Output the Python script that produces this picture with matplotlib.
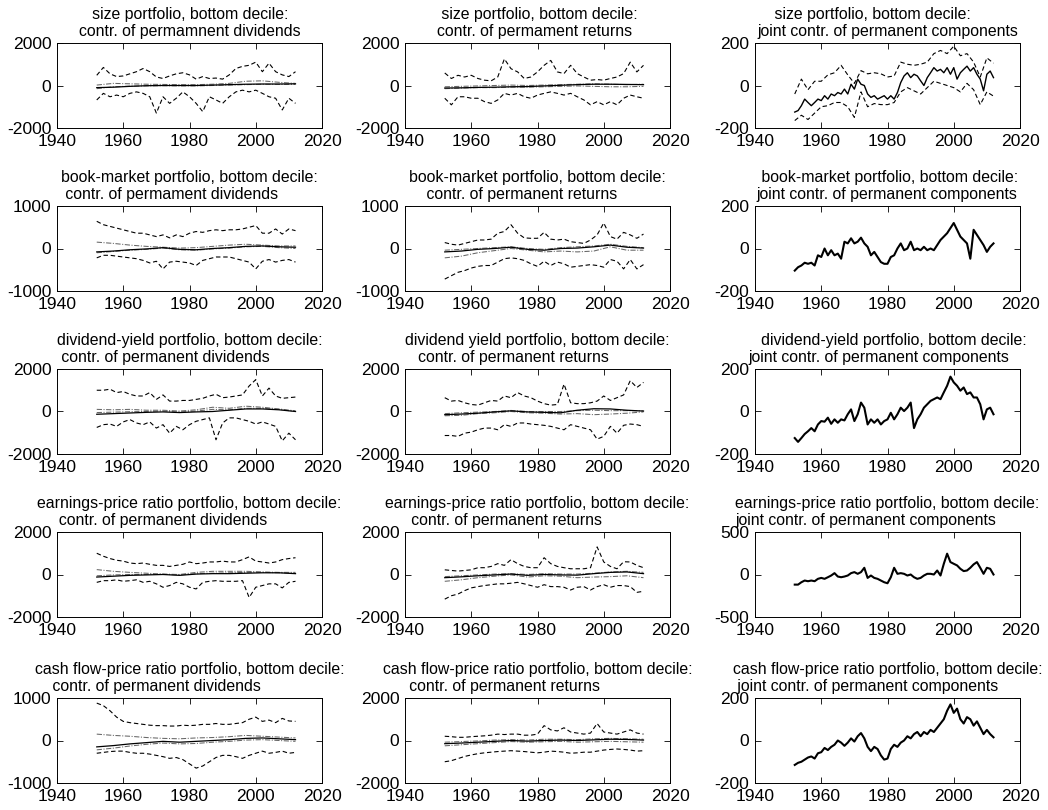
import numpy as np
import matplotlib
matplotlib.use("Agg")
import matplotlib.pyplot as plt

plt.rcParams['font.family'] = ['Liberation Sans', 'DejaVu Sans']
plt.rcParams['axes.unicode_minus'] = False

# time grids
yr_band = np.arange(1952, 2013, 2)
yr_mid = np.arange(1952, 2013, 5)
yr_joint = np.arange(1952, 2013, 1)

# ---- size portfolio ----
size_div_up = [480, 850, 550, 420, 450, 550, 650, 800, 650, 400, 330, 450, 550, 600, 500, 300,
               420, 330, 350, 300, 500, 800, 900, 950, 1100, 650, 1050, 650, 500, 420, 650]
size_div_lo = [-680, -370, -530, -450, -530, -370, -300, -370, -530, -1300, -530, -840, -600, -300, -530, -840,
               -1230, -530, -680, -840, -530, -300, -220, -300, -220, -370, -530, -600, -1150, -600, -840]
size_div_est = [-100, -80, -40, -10, 0, 0, 0, 20, 40, 60, 70, 70, 80]
size_div_dd_up = [20, 100, 80, 60, 50, 40, 40, 60, 100, 200, 220, 150, 100]
size_div_dd_lo = [-150, -60, -30, -20, -10, -20, -20, 0, 20, 40, 60, 50, 50]

size_ret_up = [590, 330, 480, 400, 480, 330, 250, 220, 400, 1250, 790, 640, 330, 400, 640, 950,
               1180, 640, 560, 950, 560, 400, 250, 280, 250, 330, 400, 560, 1100, 640, 950]
size_ret_lo = [-600, -910, -530, -530, -600, -600, -760, -840, -680, -370, -450, -370, -530, -600, -450, -370,
               -300, -370, -450, -370, -530, -680, -910, -760, -910, -760, -910, -600, -450, -530, -600]
size_ret_est = [-120, -110, -90, -80, -60, -50, -20, 10, 40, 60, 60, 50, 40]
size_ret_dd_up = [-60, -40, -20, 0, 20, 0, 20, 40, 60, 80, 60, 40, 60]
size_ret_dd_lo = [-150, -120, -100, -100, -80, -80, -60, -40, -20, -40, -60, -60, -40]

size_joint_est = [-125, -118, -95, -64, -80, -95, -80, -64, -71, -48,
                  -64, -40, -48, -33, -40, -17, -40, 6, -17, 30,
                  6, 0, -40, -56, -48, -64, -56, -48, -64, -48,
                  -64, -33, 14, 45, 60, 37, 53, 45, 22, 0,
                  37, 60, 84, 68, 76, 60, 84, 53, 84, 30,
                  60, 76, 91, 68, 84, 53, 30, -25, 53, 68,
                  37]
size_joint_up = [-40, 30, -20, 20, 20, 50, 60, 95, 50, 10, 70, 55, 60, 55, 40, 45,
                 110, 100, 95, 100, 110, 150, 165, 150, 185, 140, 150, 110, 40, 130, 105]
size_joint_lo = [-165, -140, -160, -130, -100, -95, -80, -80, -100, -150, -30, -100, -85, -90, -90, -80,
                 -30, -10, -25, -40, -10, 20, 10, 0, -10, -30, 10, -20, -90, -30, -50]

# ---- book-market portfolio ----
bm_div_up = [640, 560, 520, 480, 440, 400, 360, 360, 320, 280, 320, 250, 320, 280, 360, 400,
             380, 420, 440, 420, 440, 440, 460, 500, 540, 360, 360, 460, 340, 460, 420]
bm_div_lo = [-220, -160, -160, -180, -200, -220, -240, -280, -340, -300, -480, -320, -300, -320, -340, -400,
             -280, -240, -200, -200, -200, -240, -280, -320, -480, -300, -260, -320, -280, -260, -320]
bm_div_est = [-80, -60, -30, -10, 20, -20, -30, 0, 20, 50, 60, 40, 30]
bm_div_dd_up = [150, 120, 80, 50, 30, 10, 20, 50, 80, 100, 80, 60, 60]
bm_div_dd_lo = [-100, -70, -40, -20, 10, -30, -40, -10, 10, 40, 50, 20, 0]

bm_ret_up = [140, 100, 80, 120, 160, 200, 200, 220, 360, 400, 560, 360, 250, 240, 240, 380,
             220, 200, 220, 160, 140, 120, 200, 320, 600, 280, 220, 380, 320, 240, 340]
bm_ret_lo = [-720, -640, -560, -520, -460, -420, -400, -400, -320, -240, -220, -240, -280, -360, -420, -300,
             -400, -320, -360, -440, -420, -400, -380, -400, -440, -260, -300, -480, -260, -480, -380]
bm_ret_est = [-80, -60, -20, 0, 30, -20, -40, 0, 10, 40, 80, 30, 10]
bm_ret_dd_up = [-40, -20, 0, 20, 40, 0, -20, 20, 40, 60, 100, 50, 20]
bm_ret_dd_lo = [-220, -180, -100, -50, 0, -40, -80, -60, -80, -60, 40, -40, -40]

bm_joint_est = [-104, -88, -80, -67, -72, -67, -80, -32, -40, 0,
                -32, -8, -32, -24, -48, 32, 24, 48, 24, 32,
                51, 24, 8, -32, -16, -40, -64, -72, -72, -40,
                -32, 0, 24, -8, 0, 32, -8, 0, -8, 8,
                -8, 0, -8, 16, 40, 56, 72, 96, 120, 88,
                56, 40, 24, -48, 88, 64, 40, 16, -16, 8,
                24]

# ---- dividend-yield portfolio ----
dy_div_up = [1000, 1000, 1050, 890, 940, 810, 730, 730, 890, 570, 780, 490, 490, 520, 520, 570,
             620, 730, 810, 650, 680, 730, 780, 1200, 1500, 730, 1100, 730, 620, 650, 680]
dy_div_lo = [-750, -620, -590, -700, -490, -380, -540, -620, -490, -780, -620, -1020, -700, -860, -620, -460,
             -380, -300, -1330, -540, -300, -300, -380, -460, -590, -490, -590, -700, -1380, -1020, -1330]
dy_div_est = [-130, -100, -70, -40, -20, -50, -20, 0, 60, 120, 120, 80, 0]
dy_div_dd_up = [100, 80, 100, 60, 60, 20, 80, 200, 150, 250, 200, 120, 30]
dy_div_dd_lo = [-50, -30, -10, 0, 20, -20, 20, 100, 80, 150, 150, 100, 0]

dy_ret_up = [650, 490, 520, 410, 330, 300, 410, 520, 490, 730, 650, 890, 730, 650, 490, 370,
             300, 330, 1290, 410, 370, 370, 410, 490, 730, 520, 650, 780, 1450, 1130, 1370]
dy_ret_lo = [-1130, -1130, -1170, -1020, -970, -860, -780, -780, -860, -620, -700, -540, -540, -590, -620, -650,
             -700, -780, -860, -620, -700, -780, -860, -1300, -1170, -700, -1020, -650, -590, -620, -700]
dy_ret_est = [-150, -120, -80, -20, 30, -20, -40, -60, 60, 130, 120, 60, 20]
dy_ret_dd_up = [-100, -60, -30, 0, 50, 0, 0, 0, 40, 60, 40, 40, 30]
dy_ret_dd_lo = [-200, -180, -100, -60, 0, -60, -80, -120, -100, -150, -120, -80, -20]

dy_joint_est = [-125, -143, -125, -106, -93, -78, -93, -61, -45, -48,
                -29, -58, -37, -53, -37, -42, -13, 10, -45, -13,
                42, 18, -61, -37, -53, -37, -61, -45, -37, -6,
                -37, -13, 18, 2, 18, 42, -78, -37, -13, 18,
                34, 50, 58, 66, 58, 90, 121, 164, 137, 121,
                98, 113, 82, 90, 66, 66, 34, -37, 10, 18,
                -13]

# ---- earnings-price ratio portfolio ----
ep_div_up = [1000, 860, 750, 670, 630, 540, 510, 540, 480, 430, 430, 380, 430, 480, 590, 510,
             540, 590, 590, 630, 590, 590, 700, 830, 630, 590, 540, 590, 700, 750, 790]
ep_div_lo = [-370, -290, -290, -250, -320, -290, -250, -370, -320, -440, -600, -520, -370, -440, -600, -680,
             -370, -320, -290, -320, -320, -320, -290, -1080, -600, -520, -440, -440, -630, -370, -320]
ep_div_est = [-120, -80, -40, -20, 0, -40, 20, 40, 40, 60, 80, 80, 40]
ep_div_dd_up = [230, 150, 100, 60, 20, 0, 100, 150, 150, 150, 120, 100, 100]
ep_div_dd_lo = [-60, -20, 0, 0, 10, -20, 40, 60, 80, 100, 100, 80, 60]

ep_ret_up = [220, 190, 160, 190, 220, 320, 320, 380, 510, 430, 700, 510, 380, 320, 320, 790,
             510, 380, 320, 270, 270, 270, 320, 1300, 590, 380, 270, 600, 590, 430, 320]
ep_ret_lo = [-1160, -1000, -920, -760, -630, -570, -520, -480, -440, -440, -410, -370, -440, -520, -600, -480,
             -570, -570, -600, -730, -600, -570, -730, -570, -480, -600, -520, -520, -570, -840, -790]
ep_ret_est = [-150, -110, -60, -20, 20, -40, 0, -20, -30, 40, 100, 120, 40]
ep_ret_dd_up = [-100, -60, -20, 20, 40, 0, 40, 20, 20, 60, 120, 150, 100]
ep_ret_dd_lo = [-320, -250, -150, -80, -20, -120, -60, -80, -150, -120, -100, -60, -150]

ep_joint_est = [-119, -119, -91, -71, -79, -71, -79, -51, -40, -51,
                -32, -12, 16, -24, -32, -24, -12, 16, 28, 8,
                28, 79, -40, -12, -40, -51, -71, -91, -103, -32,
                79, 8, 16, 8, -12, 0, -32, -51, -40, -12,
                8, 8, 0, 47, -12, 126, 245, 146, 126, 107,
                67, 40, 47, 79, 119, 146, 79, 8, 79, 67,
                0]

# ---- cash flow-price ratio portfolio ----
cf_div_up = [880, 820, 700, 550, 450, 420, 400, 380, 360, 350, 350, 340, 340, 360, 350, 360,
             380, 380, 400, 380, 380, 400, 420, 500, 550, 450, 480, 420, 520, 460, 450]
cf_div_lo = [-300, -280, -260, -250, -250, -280, -300, -300, -320, -350, -380, -420, -400, -450, -550, -650,
             -600, -500, -400, -350, -350, -380, -420, -350, -300, -250, -300, -280, -250, -300, -280]
cf_div_est = [-150, -120, -80, -50, -20, -40, -20, 0, 20, 50, 60, 40, 20]
cf_div_dd_up = [150, 120, 100, 70, 50, 40, 60, 70, 90, 120, 100, 80, 60]
cf_div_dd_lo = [-220, -180, -130, -90, -60, -80, -70, -40, -20, 10, 20, 0, -20]

cf_ret_up = [200, 180, 150, 150, 180, 200, 220, 250, 300, 280, 300, 300, 250, 250, 300, 700,
             500, 450, 600, 400, 350, 300, 350, 800, 400, 350, 300, 400, 500, 350, 300]
cf_ret_lo = [-1000, -950, -850, -750, -680, -620, -580, -550, -520, -500, -480, -500, -520, -550, -580, -550,
             -500, -520, -550, -600, -580, -550, -550, -500, -450, -420, -400, -420, -450, -500, -480]
cf_ret_est = [-150, -120, -80, -40, 0, -30, 0, 20, 0, 30, 60, 50, 20]
cf_ret_dd_up = [-80, -50, -20, 20, 40, 20, 60, 60, 40, 80, 100, 80, 60]
cf_ret_dd_lo = [-250, -200, -150, -100, -50, -80, -60, -40, -80, -60, -40, -60, -80]

cf_joint_est = [-115, -105, -100, -90, -80, -75, -85, -60, -55, -35,
                -45, -30, -20, 0, -10, -25, -10, 10, -5, 20,
                35, 10, -30, -50, -30, -40, -70, -90, -85, -40,
                -20, -30, -10, 0, 20, 10, 30, 40, 20, 40,
                30, 50, 40, 60, 80, 100, 140, 170, 130, 150,
                100, 80, 110, 100, 70, 90, 60, 30, 50, 30,
                15]

titles = [
    [["   size portfolio, bottom decile:", "contr. of permamnent dividends"],
     [" size portfolio, bottom decile:", "contr. of permament returns"],
     ["    size portfolio, bottom decile:", "joint contr. of permanent components"]],
    [["book-market portfolio, bottom decile:", " contr. of permament dividends"],
     ["book-market portfolio, bottom decile:", "    contr. of permanent returns"],
     [" book-market portfolio, bottom decile:", "joint contr. of permanent components"]],
    [["dividend-yield portfolio, bottom decile:", " contr. of permanent dividends"],
     ["dividend yield portfolio, bottom decile:", "   contr. of permanent returns"],
     ["   dividend-yield portfolio, bottom decile:", "joint contr. of permanent components"]],
    [["earnings-price ratio portfolio, bottom decile:", "     contr. of permanent dividends"],
     ["earnings-price ratio portfolio, bottom decile:", "      contr. of permanent returns"],
     ["earnings-price ratio portfolio, bottom decile:", "joint contr. of permanent components"]],
    [["cash flow-price ratio portfolio, bottom decile:", "    contr. of permanent dividends"],
     ["cash flow-price ratio portfolio, bottom decile:", "      contr. of permanent returns"],
     ["cash flow-price ratio portfolio, bottom decile:", " joint contr. of permanent components"]],
]

ylims = [[2000, 2000, 200],
         [1000, 1000, 200],
         [2000, 2000, 200],
         [2000, 2000, 500],
         [1000, 2000, 200]]

band_panels = [
    [(size_div_est, size_div_dd_up, size_div_dd_lo, size_div_up, size_div_lo),
     (size_ret_est, size_ret_dd_up, size_ret_dd_lo, size_ret_up, size_ret_lo)],
    [(bm_div_est, bm_div_dd_up, bm_div_dd_lo, bm_div_up, bm_div_lo),
     (bm_ret_est, bm_ret_dd_up, bm_ret_dd_lo, bm_ret_up, bm_ret_lo)],
    [(dy_div_est, dy_div_dd_up, dy_div_dd_lo, dy_div_up, dy_div_lo),
     (dy_ret_est, dy_ret_dd_up, dy_ret_dd_lo, dy_ret_up, dy_ret_lo)],
    [(ep_div_est, ep_div_dd_up, ep_div_dd_lo, ep_div_up, ep_div_lo),
     (ep_ret_est, ep_ret_dd_up, ep_ret_dd_lo, ep_ret_up, ep_ret_lo)],
    [(cf_div_est, cf_div_dd_up, cf_div_dd_lo, cf_div_up, cf_div_lo),
     (cf_ret_est, cf_ret_dd_up, cf_ret_dd_lo, cf_ret_up, cf_ret_lo)],
]
joint_est = [size_joint_est, bm_joint_est, dy_joint_est, ep_joint_est, cf_joint_est]

DASH = (0, (4, 2.5))
DASHDOT = (0, (5, 1.5, 1, 1.5))

W, H = 1048, 810
fig = plt.figure(figsize=(W / 100, H / 100), dpi=100)
col_left = [57, 405, 755]
row_top = [43, 206, 369, 532, 698]
ax_w, ax_h = 265, 85

for r in range(5):
    for c in range(3):
        ax = fig.add_axes([col_left[c] / W, 1 - (row_top[r] + ax_h) / H, ax_w / W, ax_h / H])
        lim = ylims[r][c]
        if c < 2:
            est, dd_up, dd_lo, up, lo = band_panels[r][c]
            ax.plot(yr_band, up, color='k', lw=0.8, ls=DASH)
            ax.plot(yr_band, lo, color='k', lw=0.8, ls=DASH)
            ax.plot(yr_mid, dd_up, color='0.4', lw=0.75, ls=DASHDOT)
            ax.plot(yr_mid, dd_lo, color='0.4', lw=0.75, ls=DASHDOT)
            ax.plot(yr_mid, est, color='k', lw=0.9)
        else:
            if r == 0:
                ax.plot(yr_band, size_joint_up, color='k', lw=0.8, ls=DASH)
                ax.plot(yr_band, size_joint_lo, color='k', lw=0.8, ls=DASH)
                ax.plot(yr_joint, joint_est[r], color='k', lw=1.0)
            else:
                ax.plot(yr_joint, joint_est[r], color='k', lw=1.5)
        ax.set_xlim(1940, 2020)
        ax.set_ylim(-lim, lim)
        ax.set_xticks([1940, 1960, 1980, 2000, 2020])
        ax.set_yticks([-lim, 0, lim])
        ax.set_yticklabels([str(-lim), '0', str(lim)])
        ax.tick_params(direction='in', top=True, right=True, length=4, width=0.6,
                       labelsize=12.6)
        ax.tick_params(axis='x', pad=4)
        ax.tick_params(axis='y', pad=4)
        for s in ax.spines.values():
            s.set_linewidth(0.7)
        ax.set_title("\n".join(titles[r][c]), fontsize=11.4, loc='center',
                     multialignment='left', linespacing=1.2, pad=5)

fig.savefig("out.png", dpi=100)
